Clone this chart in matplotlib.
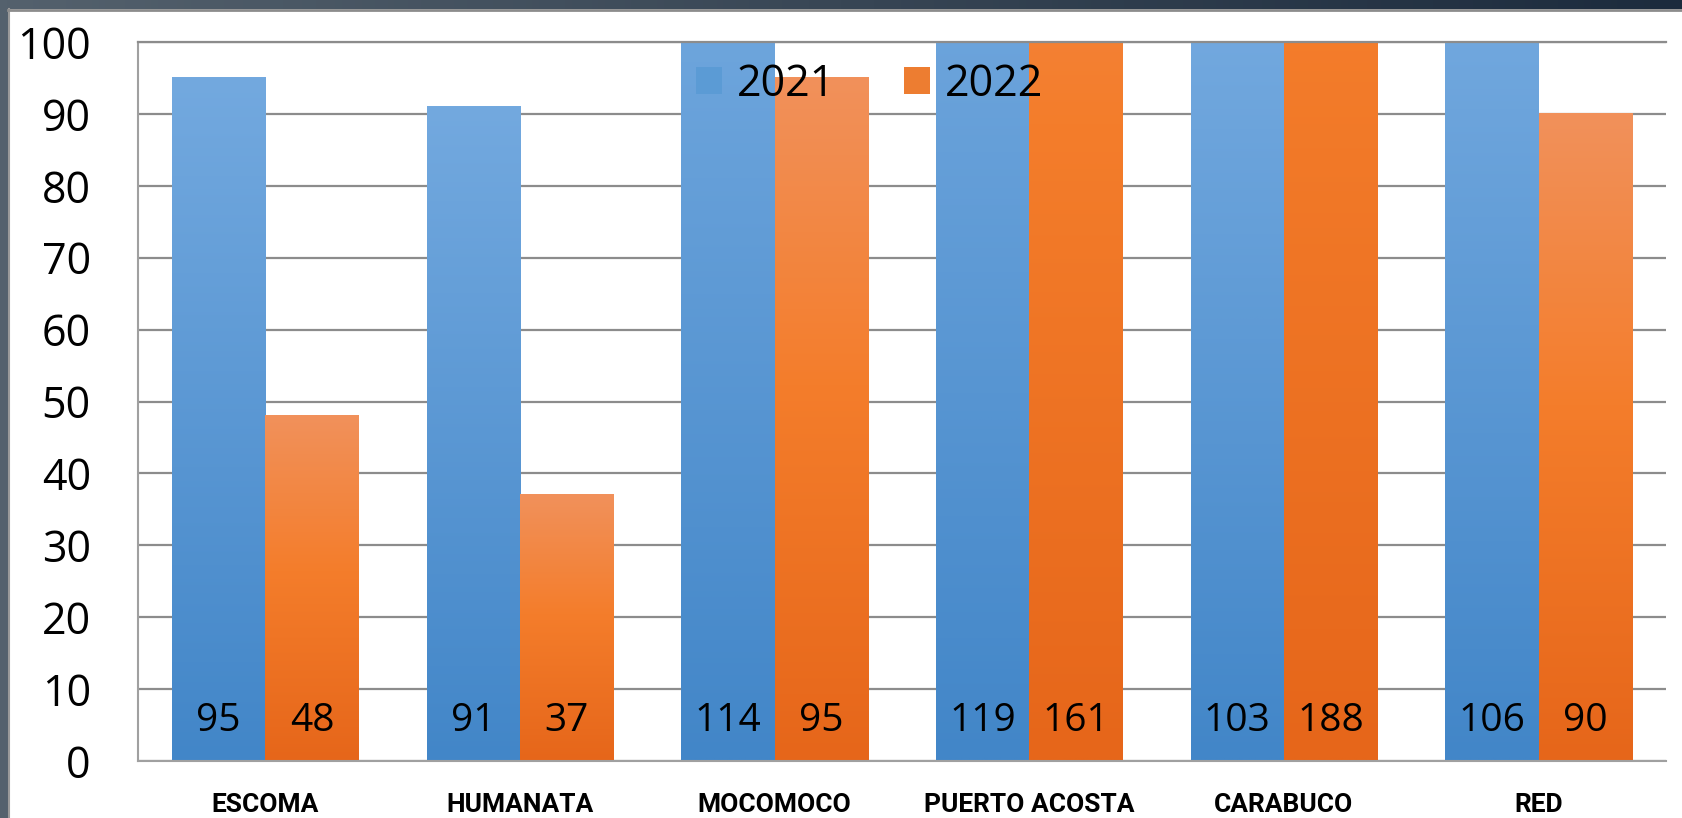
import numpy as np
import matplotlib.pyplot as plt
from matplotlib.colors import LinearSegmentedColormap, Normalize
from matplotlib.patches import Rectangle
from matplotlib.lines import Line2D

# data
categories = ["ESCOMA", "HUMANATA", "MOCOMOCO", "PUERTO ACOSTA", "CARABUCO", "RED"]
years = ["2021", "2022"]
vals_2021 = [95, 91, 114, 119, 103, 106]
vals_2022 = [48, 37, 95, 161, 188, 90]
yticks = [0, 10, 20, 30, 40, 50, 60, 70, 80, 90, 100]

W, H = 1683, 818
fig = plt.figure(figsize=(W / 100, H / 100), dpi=100)

# dark slide frame behind the chart
bg = fig.add_axes([0, 0, 1, 1], zorder=-2)
frame_cmap = LinearSegmentedColormap.from_list("frame", ["#54616d", "#1c2b3d"])
bg.imshow(np.linspace(0, 1, 256).reshape(1, -1), extent=[0, 1, 0, 1],
          aspect="auto", cmap=frame_cmap, transform=bg.transAxes)
bg.add_patch(Rectangle((8 / W, 0), 1, (H - 9) / H, facecolor="white",
                       edgecolor="none", transform=bg.transAxes))
bg.add_line(Line2D([8.5 / W, 8.5 / W], [0, (H - 9) / H], color="#9a9a9a",
                   lw=1.5, transform=bg.transAxes))
bg.add_line(Line2D([8 / W, 1], [(H - 9.5) / H, (H - 9.5) / H], color="#8c8c8c",
                   lw=2, transform=bg.transAxes))
bg.set_xlim(0, 1)
bg.set_ylim(0, 1)
bg.axis("off")

ax = fig.add_axes([138 / W, 57 / H, (1666 - 138) / W, (761 - 42) / H])
ymax = 100

blue_cmap = LinearSegmentedColormap.from_list("b", ["#4286c8", "#73a9df"])
orange_cmap = LinearSegmentedColormap.from_list(
    "o", [(0, "#e6661a"), (0.55, "#f47d2b"), (1, "#f1915b")])
solid = {"2021": "#5b9bd5", "2022": "#ed7d31"}

x = np.arange(len(categories))
w = 0.367

for vals, off, cmap, yr in [(vals_2021, -w / 2, blue_cmap, "2021"),
                            (vals_2022, w / 2, orange_cmap, "2022")]:
    bars = ax.bar(x + off, vals, w, facecolor="none", edgecolor="none",
                  label=yr, zorder=2)
    for b, v in zip(bars, vals):
        top = min(v, ymax)
        # gradient runs over the full bar value, cut at the axis top
        g = np.linspace(0, top, 256).reshape(-1, 1)
        ax.imshow(g, extent=[b.get_x(), b.get_x() + w, 0, top],
                  origin="lower", aspect="auto", cmap=cmap,
                  norm=Normalize(0, v), zorder=2)
        ax.annotate(str(v), (b.get_x() + w / 2, 0), xytext=(0, 29),
                    textcoords="offset points", ha="center", va="center",
                    fontsize=28, family="Open Sans", color="black", zorder=3)

ax.set_xlim(-0.5, len(categories) - 0.5)
ax.set_ylim(0, ymax)
ax.set_yticks(yticks)
ax.set_yticklabels([str(t) for t in yticks], fontsize=31, family="Open Sans")
ax.set_xticks(x)
ax.set_xticklabels(categories, fontsize=19, fontweight="bold",
                   family=["Roboto", "DejaVu Sans"])
ax.tick_params(axis="y", length=0, pad=34)
ax.tick_params(axis="x", length=0, pad=23)

ax.grid(axis="y", color="#8c8c8c", lw=1.6, zorder=0)
ax.set_axisbelow(True)
ax.spines["right"].set_visible(False)
ax.spines["top"].set_color("#8c8c8c")
ax.spines["top"].set_linewidth(1.6)
for s in ["left", "bottom"]:
    ax.spines[s].set_color("#a0a0a0")
    ax.spines[s].set_linewidth(1.5)

handles = [Rectangle((0, 0), 1, 1, facecolor=solid[y]) for y in years]
ax.legend(handles, years, loc="center", bbox_to_anchor=(0.479, 0.941),
          ncol=2, frameon=False, prop={"family": "Open Sans", "size": 31},
          handlelength=0.6, handleheight=0.6, handletextpad=0.35,
          columnspacing=1.6)

fig.savefig("out.png", dpi=100)
